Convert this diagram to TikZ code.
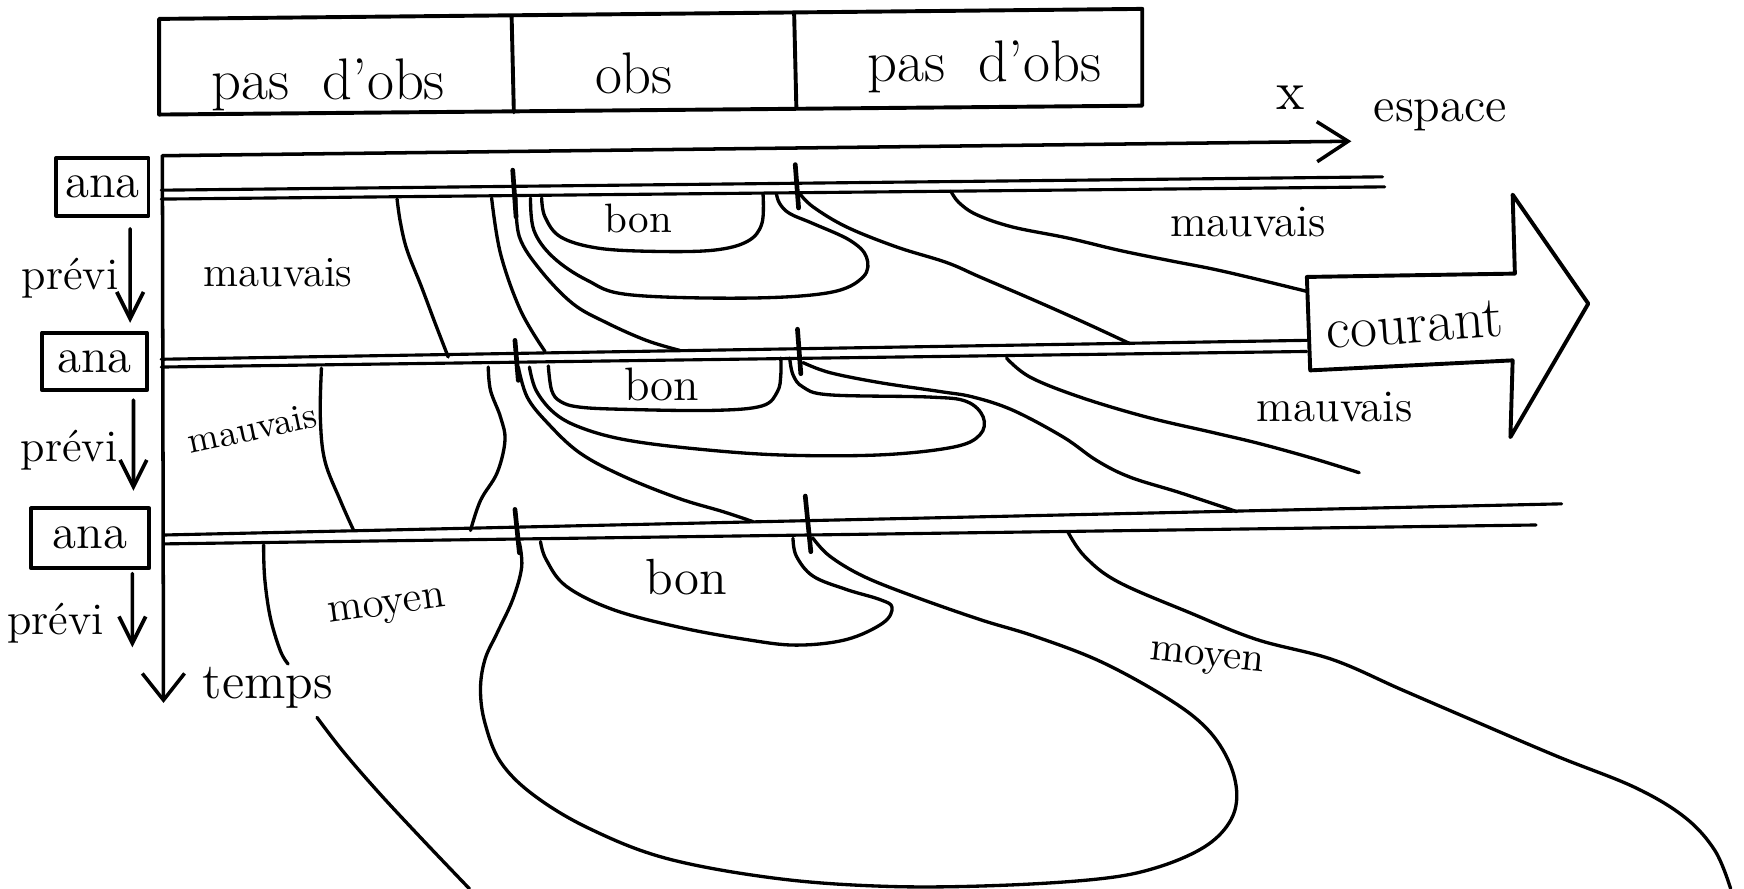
\documentclass[tikz,border=0pt]{standalone}
\usepackage{fontspec}
\usetikzlibrary{arrows.meta}
\begin{document}
\begin{tikzpicture}[x=0.1mm,y=-0.1mm,line cap=round,line join=round,
  frame/.style={line width=1pt},
  rowline/.style={line width=0.8pt},
  contour/.style={line width=0.85pt},
  tickmark/.style={line width=1.2pt},
  axisx/.style={line width=0.9pt,-{Straight Barb[length=2.8mm,width=3.6mm,line width=0.9pt]}},
  axist/.style={line width=0.9pt,-{Straight Barb[length=2.4mm,width=3.8mm,line width=0.9pt]}},
  previarrow/.style={line width=0.95pt,-{Straight Barb[length=2.4mm,width=2.4mm,line width=0.95pt]}},
  anabox/.style={draw,line width=1pt,inner sep=0pt,font=\fontsize{12.5}{12.5}\selectfont},
  lbl/.style={inner sep=0pt,font=\fontsize{#1}{#1}\selectfont}]
\useasboundingbox (0,0) rectangle (1568,799);

% top observation strip
\draw[frame] (143,17) -- (1027,8) -- (1027,95) -- (143,103) -- cycle;
\draw[frame] (460,15) -- (462,101);
\draw[frame] (714,12) -- (716,97);
\node[lbl=15] (pas1) at (295,76) {pas\hspace{3mm}d'obs};
\node[lbl=15] (obs) at (570,66) {obs};
\node[lbl=15] (pas2) at (885,60) {pas\hspace{3mm}d'obs};

% axes
\coordinate (O) at (146,140);
\coordinate (xend) at (1215,127);
\coordinate (tend) at (147,632);
\draw[axisx] (O) -- (xend);
\draw[axist] (O) -- (tend);
\node[lbl=14] (xlab) at (1160,88) {x};
\node[lbl=12.5] (espace) at (1295,104) {espace};
\node[lbl=13] (temps) at (241,618) {temps};

% rows (double lines)
\draw[rowline] (145,171) -- (1243,159);
\draw[rowline] (145,179) -- (1245,168);
\draw[rowline] (145,323) -- (1175,306);
\draw[rowline] (145,330) -- (1175,316);
\draw[rowline] (148,481) -- (1404,453);
\draw[rowline] (148,489) -- (1381,472);

% ticks at the observed zone
\draw[tickmark] (461,153) -- (464,195);
\draw[tickmark] (715,148) -- (718,187);
\draw[tickmark] (463,306) -- (466,342);
\draw[tickmark] (717,296) -- (720,336);
\draw[tickmark] (463,458) -- (467,497);
\draw[tickmark] (724,446) -- (729,496);

% ana / previ
\node[anabox,minimum width=8.3mm,minimum height=5.2mm] (ana1) at (92,168) {ana};
\node[anabox,minimum width=9.4mm,minimum height=5.2mm] (ana2) at (85,325) {ana};
\node[anabox,minimum width=10.6mm,minimum height=5.4mm] (ana3) at (81,484) {ana};
\coordinate (p3end) at (119,582);
\draw[previarrow] ([xshift=2.5mm,yshift=-1mm]ana1.south) -- ([xshift=3.2mm,yshift=0.7mm]ana2.north);
\draw[previarrow] ([xshift=3.5mm,yshift=-0.7mm]ana2.south) -- ([xshift=3.9mm,yshift=1.4mm]ana3.north);
\draw[previarrow] ([xshift=3.8mm,yshift=-0.3mm]ana3.south) -- (p3end);
\node[lbl=11.5] (prev1) at (63,250) {prévi};
\node[lbl=11.5] (prev2) at (62,405) {prévi};
\node[lbl=11.5] (prev3) at (50,560) {prévi};

% courant arrow
\draw[frame] (1175,249) -- (1362,246) -- (1360,175) -- (1428,273) -- (1358,393) -- (1360,324) -- (1178,333) -- cycle;
\node[lbl=15,rotate=4] (courant) at (1272,292) {courant};

% ---------- contours between row 1 and row 2 ----------
\draw[contour] plot[smooth,tension=0.6] coordinates {(357,179) (360,200) (366,225) (379,258) (391,290) (403,321)};
\draw[contour] plot[smooth,tension=0.6] coordinates {(442,178) (450,228) (468,279) (490,316)};
\draw[contour] plot[smooth,tension=0.6] coordinates {(464,178) (467,213) (486,243) (515,273) (545,290) (581,306) (611,315)};
\draw[contour] plot[smooth,tension=0.6] coordinates {(477,178) (480,207) (497,231) (528,252) (566,265) (672,268) (746,263) (776,249) (779,231) (764,216) (731,201) (710,192) (701,183) (698,174)};
\draw[contour] plot[smooth,tension=0.6] coordinates {(487,178) (490,195) (504,213) (537,223) (587,226) (641,225) (672,217) (685,201) (686,174)};
\draw[contour] plot[smooth,tension=0.6] coordinates {(719,174) (731,186) (761,204) (806,222) (851,236) (881,249) (930,270) (975,290) (1016,309)};
\draw[contour] plot[smooth,tension=0.6] coordinates {(855,172) (862,182) (878,193) (910,204) (960,214) (1006,225) (1050,234) (1091,242) (1130,251) (1175,262)};

% ---------- contours between row 2 and row 3 ----------
\draw[contour] plot[smooth,tension=0.6] coordinates {(289,331) (288,375) (292,414) (306,450) (318,477)};
\draw[contour] plot[smooth,tension=0.6] coordinates {(439,330) (441,351) (450,375) (454,396) (447,425) (432,450) (423,477)};
\draw[contour] plot[smooth,tension=0.6] coordinates {(466,330) (474,357) (492,380) (521,407) (560,428) (610,448) (650,460) (677,469)};
\draw[contour] plot[smooth,tension=0.6] coordinates {(476,330) (482,351) (498,371) (521,384) (560,395) (620,403) (700,409) (791,409) (857,402) (881,391) (884,375) (869,361) (836,357) (746,355) (722,348) (713,337) (710,322)};
\draw[contour] plot[smooth,tension=0.6] coordinates {(493,329) (496,351) (504,361) (521,366) (560,368) (640,369) (685,365) (699,352) (702,337) (702,322)};
\draw[contour] plot[smooth,tension=0.6] coordinates {(722,326) (746,335) (791,344) (845,352) (875,357) (911,369) (956,393) (986,414) (1016,429) (1061,443) (1112,460)};
\draw[contour] plot[smooth,tension=0.6] coordinates {(905,322) (926,339) (971,357) (1031,375) (1091,389) (1133,399) (1180,412) (1222,425)};

% ---------- contours below row 3 ----------
\draw[contour] plot[smooth,tension=0.6] coordinates {(237,490) (238,520) (243,555) (252,585) (259,597)};
\draw[contour] plot[smooth,tension=0.6] coordinates {(285,645) (308,675) (340,712) (380,755) (422,799)};
\draw[contour] plot[smooth,tension=0.6] coordinates {(467,488) (469,510) (461,539) (447,569) (436,593) (432,620) (436,650) (450,685) (480,715) (530,745) (600,772) (700,790) (800,797) (900,796) (990,790) (1040,780) (1082,762) (1105,740) (1112,715) (1105,685) (1085,655) (1050,628) (990,595) (930,572) (881,557) (821,536) (776,518) (746,500) (731,484)};
\draw[contour] plot[smooth,tension=0.6] coordinates {(486,487) (491,503) (509,527) (551,548) (611,564) (671,575) (716,580) (761,575) (794,560) (802,546) (791,539) (761,530) (731,518) (716,500) (713,484)};
\draw[contour] plot[smooth,tension=0.6] coordinates {(960,478) (975,500) (1005,523) (1070,551) (1130,575) (1198,593) (1260,620) (1325,648) (1400,680) (1470,708) (1515,735) (1542,765) (1556,799)};

% ---------- region labels ----------
\node[lbl=10.5] (bon1) at (574,196) {bon};
\node[lbl=12] (bon2) at (595,346) {bon};
\node[lbl=13] (bon3) at (617,519) {bon};
\node[lbl=11] (mauvL1) at (250,245) {mauvais};
\node[lbl=9.5,rotate=12] (mauvL2) at (227,385) {mauvais};
\node[lbl=11.5] (mauvR1) at (1122,200) {mauvais};
\node[lbl=11.5] (mauvR2) at (1200,366) {mauvais};
\node[lbl=11,rotate=8] (moyL) at (348,548) {moyen};
\node[lbl=10.5,rotate=-6] (moyR) at (1085,594) {moyen};
\end{tikzpicture}
\end{document}
